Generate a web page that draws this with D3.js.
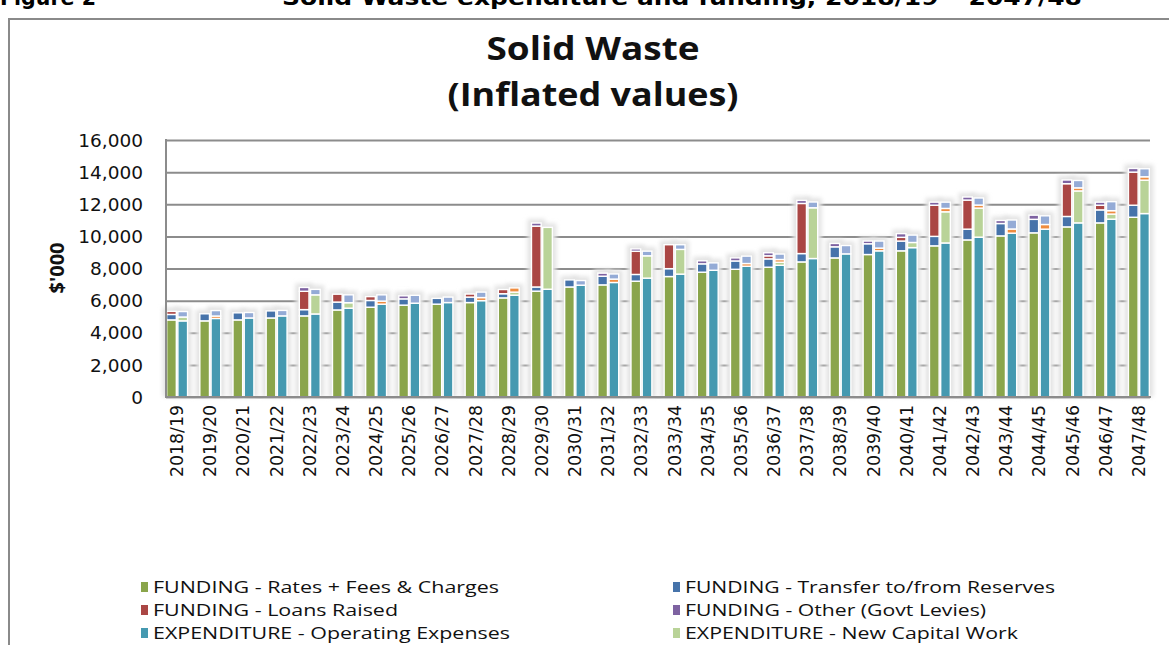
<!DOCTYPE html>
<html>
<head>
<meta charset="utf-8">
<title>Solid Waste (Inflated values)</title>
<script src="https://d3js.org/d3.v7.min.js"></script>
<style>
  body { margin: 0; background: #fff; }
  svg { display: block; }
</style>
</head>
<body>
<div id="chart"></div>
<script>
// categories
const years = ["2018/19","2019/20","2020/21","2021/22","2022/23","2023/24","2024/25","2025/26","2026/27","2027/28",
  "2028/29","2029/30","2030/31","2031/32","2032/33","2033/34","2034/35","2035/36","2036/37","2037/38",
  "2038/39","2039/40","2040/41","2041/42","2042/43","2043/44","2044/45","2045/46","2046/47","2047/48"];

// FUNDING series ($'000)
const rates    = [4800,4740,4800,4920,5050,5420,5590,5720,5780,5880,6170,6590,6850,6980,7210,7500,7770,7950,8080,8410,8660,8870,9100,9410,9780,10030,10220,10590,10840,11190];
const transfer = [340,440,440,440,390,490,420,390,360,340,260,260,440,540,420,490,520,520,520,520,690,670,610,590,670,770,840,650,810,750];
const loans    = [190,0,0,0,1140,490,240,0,0,190,260,3790,0,0,1440,1490,0,0,190,3120,0,0,230,1940,1810,0,0,2040,290,2060];
const other    = [0,0,0,0,240,0,0,190,0,0,0,190,0,190,150,0,190,190,190,190,210,170,230,190,190,190,260,230,190,230];

// EXPENDITURE series ($'000)
const operating  = [4740,4890,4920,5050,5170,5530,5780,5840,5880,6000,6340,6710,6960,7130,7400,7650,7890,8140,8200,8620,8910,9100,9300,9590,9950,10200,10450,10840,11070,11420];
const newCapital = [240,0,0,0,1190,340,0,0,0,0,190,3850,0,0,1390,1540,0,0,190,3160,0,0,320,1940,1810,0,0,1990,320,2080];
const upgrade    = [0,150,0,0,0,0,190,0,0,190,260,0,0,210,0,0,0,170,170,0,0,170,0,210,190,260,290,190,210,210];
const renewal    = [340,340,340,340,340,490,390,490,340,340,0,0,290,320,290,290,460,460,340,360,520,440,460,390,440,560,540,460,560,500];

const yTicks = [0,2000,4000,6000,8000,10000,12000,14000,16000];

const fundingKeys = ["FUNDING - Rates + Fees & Charges","FUNDING - Transfer to/from Reserves","FUNDING - Loans Raised","FUNDING - Other (Govt Levies)"];
const expendKeys  = ["EXPENDITURE - Operating Expenses","EXPENDITURE - New Capital Work","EXPENDITURE - Upgrade Capital Work","EXPENDITURE - Renewal Capital Work"];
const colors = {
  "FUNDING - Rates + Fees & Charges": "#8aa54b",
  "FUNDING - Transfer to/from Reserves": "#4673aa",
  "FUNDING - Loans Raised": "#aa4644",
  "FUNDING - Other (Govt Levies)": "#7e62a1",
  "EXPENDITURE - Operating Expenses": "#4599b0",
  "EXPENDITURE - New Capital Work": "#b9d398",
  "EXPENDITURE - Upgrade Capital Work": "#ef8c3f",
  "EXPENDITURE - Renewal Capital Work": "#94abd6"
};

const W = 1169, H = 645;
const svg = d3.select("#chart").append("svg").attr("width", W).attr("height", H);

const defs = svg.append("defs");
defs.append("filter").attr("id", "halo")
  .attr("x", "-60%").attr("y", "-20%").attr("width", "220%").attr("height", "140%")
  .append("feGaussianBlur").attr("stdDeviation", 2.2);

// build rows for stacking
const fundRows = years.map((yr, i) => ({year: yr,
  [fundingKeys[0]]: rates[i], [fundingKeys[1]]: transfer[i], [fundingKeys[2]]: loans[i], [fundingKeys[3]]: other[i]}));
const expRows = years.map((yr, i) => ({year: yr,
  [expendKeys[0]]: operating[i], [expendKeys[1]]: newCapital[i], [expendKeys[2]]: upgrade[i], [expendKeys[3]]: renewal[i]}));

const fundStack = d3.stack().keys(fundingKeys)(fundRows);
const expStack = d3.stack().keys(expendKeys)(expRows);

// header text (cut off at the top)
svg.append("text").attr("x", 0).attr("y", 5)
  .attr("font-family", "DejaVu Sans").attr("font-weight", "bold").attr("font-size", 21)
  .attr("textLength", 96).attr("lengthAdjust", "spacingAndGlyphs")
  .text("Figure 2");
svg.append("text").attr("x", 282).attr("y", 5)
  .attr("font-family", "DejaVu Sans").attr("font-weight", "bold").attr("font-size", 21)
  .attr("textLength", 800).attr("lengthAdjust", "spacingAndGlyphs")
  .text("Solid Waste expenditure and funding, 2018/19 \u2013 2047/48");

// chart frame
svg.append("path").attr("d", "M9,700V19H1200").attr("fill", "none").attr("stroke", "#8a8a8a").attr("stroke-width", 2);

// title
const title = svg.append("text").attr("text-anchor", "middle")
  .attr("font-family", "Open Sans").attr("font-weight", "bold").attr("font-size", 32).attr("fill", "#111")
  .attr("lengthAdjust", "spacingAndGlyphs");
title.append("tspan").attr("x", 593).attr("y", 60).attr("textLength", 213).attr("lengthAdjust", "spacingAndGlyphs").text("Solid Waste");
title.append("tspan").attr("x", 593).attr("y", 106).attr("textLength", 291).attr("lengthAdjust", "spacingAndGlyphs").text("(Inflated values)");

// scales
const x0 = d3.scaleBand().domain(years).range([166, 1150]).paddingInner(0.37).paddingOuter(0.02);
const x1 = d3.scaleBand().domain(["F", "E"]).range([0, x0.bandwidth()]).paddingInner(0.14);
const y = d3.scaleLinear().domain([0, 16000]).range([397, 140]);

// gridlines
const grid = svg.append("g").attr("transform", "translate(166,0)")
  .call(d3.axisLeft(y).tickValues(yTicks).tickSize(-984).tickFormat(""));
grid.select(".domain").remove();
grid.selectAll("line").attr("stroke", "#8c8c8c").attr("stroke-width", 2);

// y tick labels
svg.append("g").selectAll("text").data(yTicks).join("text")
  .attr("x", 143).attr("y", d => y(d)).attr("dy", "0.36em").attr("text-anchor", "end")
  .attr("font-family", "DejaVu Sans").attr("font-size", 18.5).attr("fill", "#111")
  .text(d => d3.format(",")(d));

// y axis title
svg.append("text").attr("transform", "translate(64,268) rotate(-90)").attr("text-anchor", "middle")
  .attr("font-family", "Open Sans").attr("font-weight", "bold").attr("font-size", 20).attr("fill", "#111")
  .text("$'000");

// halos behind bars
function drawHalo(stack, key) {
  const top = stack[stack.length - 1];
  svg.append("g").attr("filter", "url(#halo)").selectAll("rect").data(top).join("rect")
    .attr("x", d => x0(d.data.year) + x1(key) - 4)
    .attr("y", d => y(d[1]) - 4)
    .attr("width", x1.bandwidth() + 8)
    .attr("height", d => 397 - y(d[1]) + 4)
    .attr("fill", "#e3e3e3");
}
drawHalo(fundStack, "F");
drawHalo(expStack, "E");

function drawBars(stack, key) {
  svg.append("g").selectAll("g").data(stack).join("g")
    .attr("fill", s => colors[s.key])
    .selectAll("rect").data(s => s.filter(d => d[1] - d[0] > 0)).join("rect")
    .attr("x", d => x0(d.data.year) + x1(key))
    .attr("y", d => y(d[1]))
    .attr("width", x1.bandwidth())
    .attr("height", d => y(d[0]) - y(d[1]))
    .attr("stroke", "#fff").attr("stroke-width", 1.4);
}
drawBars(fundStack, "F");
drawBars(expStack, "E");

// axis lines
svg.append("line").attr("x1", 166).attr("x2", 166).attr("y1", 139).attr("y2", 398)
  .attr("stroke", "#8c8c8c").attr("stroke-width", 2);
svg.append("line").attr("x1", 165).attr("x2", 1151).attr("y1", 397).attr("y2", 397)
  .attr("stroke", "#8c8c8c").attr("stroke-width", 2);

// x labels
svg.append("g").selectAll("text").data(years).join("text")
  .attr("transform", d => `translate(${x0(d) + x0.bandwidth() / 2 + 6},405) rotate(-90)`)
  .attr("text-anchor", "end")
  .attr("font-family", "DejaVu Sans").attr("font-size", 17).attr("fill", "#111")
  .attr("textLength", 72).attr("lengthAdjust", "spacingAndGlyphs")
  .text(d => d);

// legend (last row falls below the visible area, as in the source)
const legendItems = [
  {key: fundingKeys[0], col: 0, row: 0, len: 346},
  {key: fundingKeys[1], col: 1, row: 0, len: 370},
  {key: fundingKeys[2], col: 0, row: 1, len: 245},
  {key: fundingKeys[3], col: 1, row: 1, len: 301},
  {key: expendKeys[0], col: 0, row: 2, len: 357},
  {key: expendKeys[1], col: 1, row: 2, len: 333},
  {key: expendKeys[2], col: 0, row: 3, len: 357},
  {key: expendKeys[3], col: 1, row: 3, len: 370}
];
const lg = svg.append("g").selectAll("g").data(legendItems).join("g")
  .attr("transform", d => `translate(${d.col ? 673 : 141},${587 + d.row * 23})`);
lg.append("rect").attr("x", 0).attr("y", -5).attr("width", 7).attr("height", 10)
  .attr("fill", d => colors[d.key]);
lg.append("text").attr("x", 12).attr("y", 0).attr("dy", "0.36em")
  .attr("font-family", "Open Sans").attr("font-size", 17).attr("fill", "#111")
  .attr("textLength", d => d.len).attr("lengthAdjust", "spacingAndGlyphs")
  .text(d => d.key);
</script>
</body>
</html>
